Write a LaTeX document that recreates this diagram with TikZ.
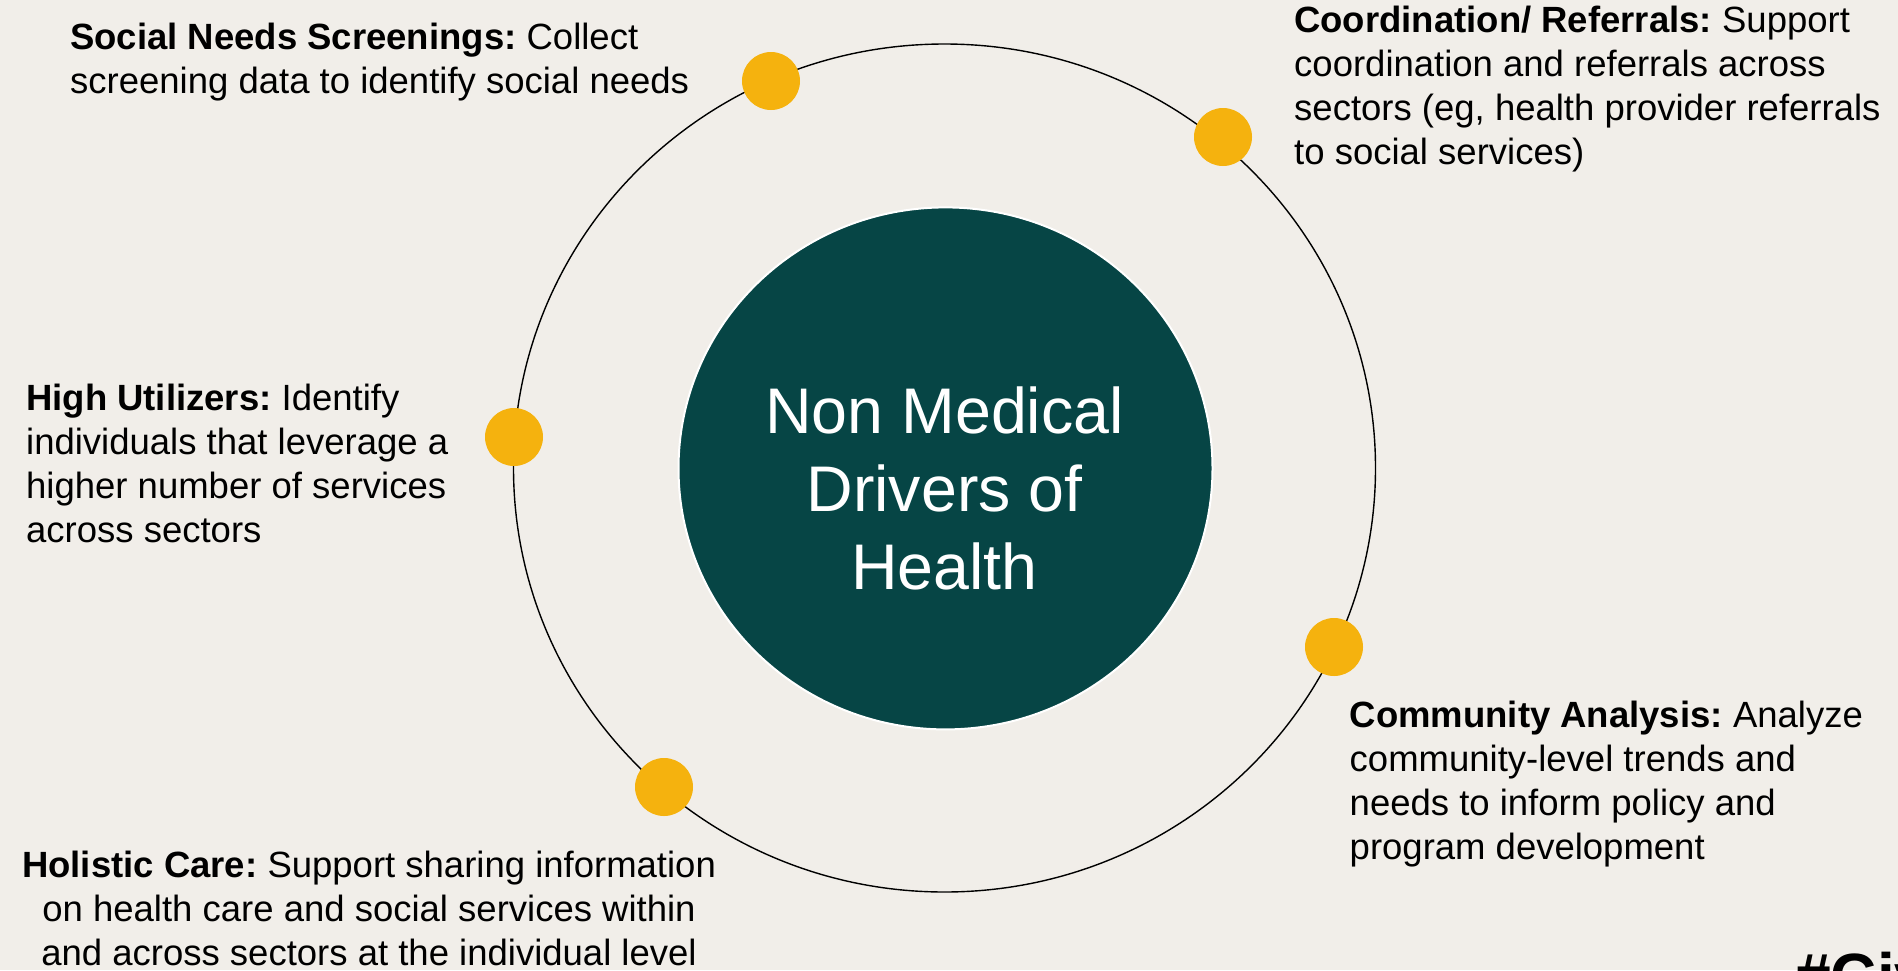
\documentclass[tikz,border=0pt]{standalone}
\usepackage{fontspec}
\setmainfont{Liberation Sans}
\frenchspacing
\definecolor{bgcol}{RGB}{241,238,233}
\definecolor{hubteal}{RGB}{6,69,69}
\definecolor{dotyellow}{RGB}{245,178,14}
\newcommand\bodyfont{\fontsize{36.5}{44}\selectfont}
\tikzset{
  dot/.style={circle, fill=dotyellow, inner sep=0pt, minimum size=58pt},
  hub/.style={ellipse, fill=hubteal, draw=white, line width=2pt, inner sep=0pt, minimum width=534pt, minimum height=522pt},
  ring/.style={draw=black, line width=1.4pt},
  lbl/.style={anchor=base west, inner sep=0pt, text=black},
  clbl/.style={anchor=base, inner sep=0pt, text=black}
}
\usetikzlibrary{shapes.geometric}
\begin{document}
\begin{tikzpicture}[x=1pt,y=-1pt]
\fill[bgcol] (0,0) rectangle (1898,970);
\useasboundingbox (0,0) rectangle (1898,970);
% outer ring
\draw[ring] (944.5,468) ellipse [x radius=431pt, y radius=424pt];
% hub
\node[hub] (hub) at (945.5,468.4) {};
\node[anchor=base, inner sep=0pt, text=white] (title) at (944.5,433)
  {\parbox[t]{600pt}{\centering\fontsize{64.5}{78}\selectfont Non Medical\\Drivers of\\Health}};
% dots
\node[dot] (d1) at (771,81) {};
\node[dot] (d2) at (1223,137) {};
\node[dot] (d3) at (514,437) {};
\node[dot] (d4) at (1334,647) {};
\node[dot] (d5) at (664,787) {};
% labels
\node[lbl] (t1) at (70,49) {\parbox[t]{800pt}{\raggedright\bodyfont
  \textbf{Social Needs Screenings:} Collect\\screening data to identify social needs}};
\node[lbl] (t2) at (1294,32) {\parbox[t]{800pt}{\raggedright\bodyfont
  \textbf{Coordination/ Referrals:} Support\\coordination and referrals across\\sectors (eg, health provider referrals\\to social services)}};
\node[lbl] (t3) at (26,410) {\parbox[t]{800pt}{\raggedright\bodyfont
  \textbf{High Utilizers:} Identify\\individuals that leverage a\\higher number of services\\across sectors}};
\node[lbl] (t4) at (1349.5,727) {\parbox[t]{800pt}{\raggedright\bodyfont
  \textbf{Community Analysis:} Analyze\\community-level trends and\\needs to inform policy and\\program development}};
\node[clbl] (t5) at (369,877) {\parbox[t]{900pt}{\centering\bodyfont
  \textbf{Holistic Care:} Support sharing information\\on health care and social services within\\and across sectors at the individual level}};
% cut-off tag
\begin{scope}
\clip (0,0) rectangle (1898,970);
\node[lbl] (tag) at (1795,998) {\fontsize{64}{70}\selectfont\bfseries \#Civ};
\end{scope}
\end{tikzpicture}
\end{document}
